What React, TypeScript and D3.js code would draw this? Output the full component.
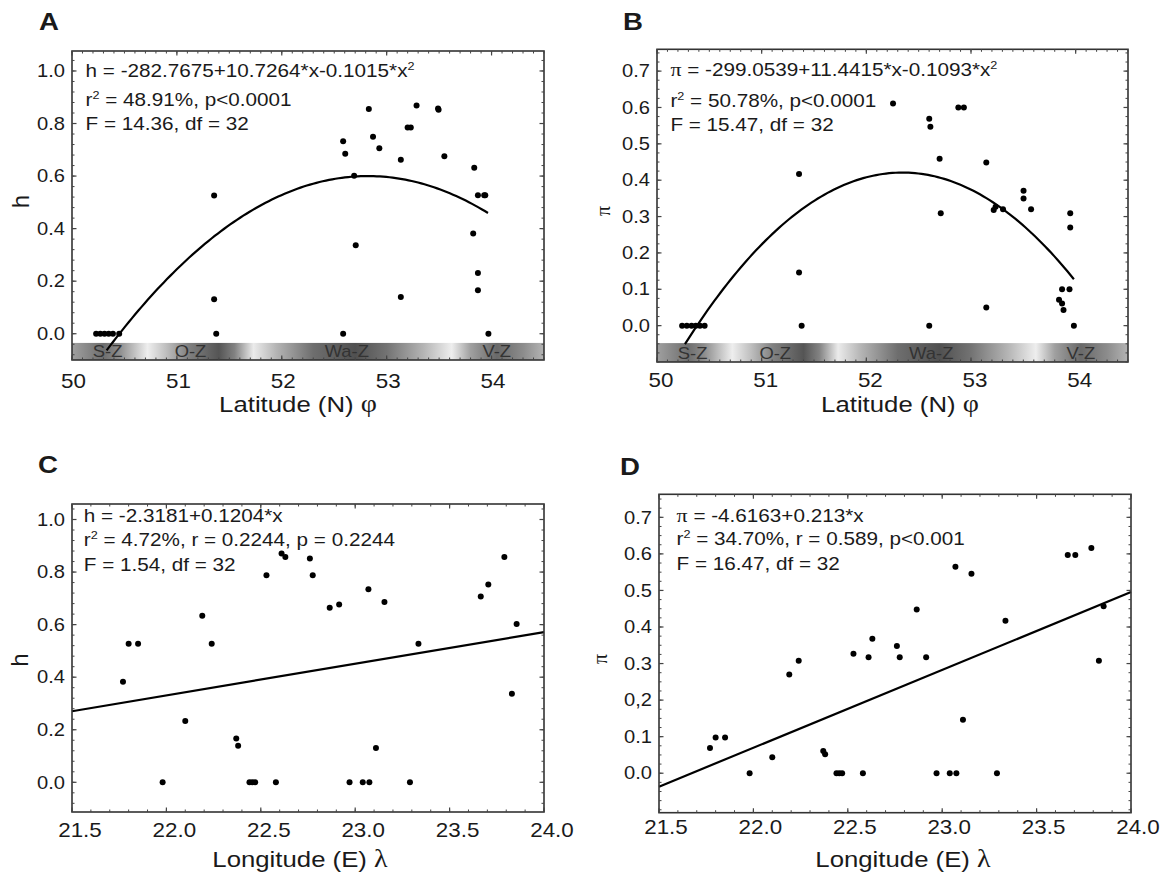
import React from "react";
import * as d3 from "d3";

const FONT = '"Liberation Sans", Arial, Helvetica, sans-serif';
const GREEK = '"Liberation Serif", "DejaVu Serif", serif';
const SX = 1.15; // the reference text is stretched horizontally

// ---- data ----
// A: latitude vs h
const latA = [50.23, 50.27, 50.31, 50.35, 50.39, 50.45, 51.355, 51.355, 51.375, 52.585, 52.605, 52.585, 52.69, 52.705, 52.83, 52.87, 52.93, 53.135, 53.135, 53.2, 53.23, 53.285, 53.49, 53.495, 53.55, 53.825, 53.835, 53.87, 53.87, 53.87, 53.93, 53.94, 53.97];
const hA = [0, 0, 0, 0, 0, 0, 0.526, 0.131, 0, 0.733, 0.685, 0, 0.601, 0.337, 0.855, 0.75, 0.706, 0.662, 0.14, 0.785, 0.785, 0.869, 0.857, 0.852, 0.675, 0.381, 0.632, 0.231, 0.165, 0.527, 0.527, 0.527, 0];

// B: latitude vs pi
const latB = [50.24, 50.285, 50.33, 50.37, 50.41, 50.455, 51.357, 51.357, 51.382, 52.255, 52.601, 52.612, 52.601, 52.7, 52.711, 52.879, 52.932, 53.146, 53.146, 53.217, 53.235, 53.306, 53.502, 53.502, 53.574, 53.841, 53.87, 53.884, 53.87, 53.941, 53.948, 53.948, 53.983];
const piB = [0, 0, 0, 0, 0, 0, 0.417, 0.146, 0, 0.611, 0.569, 0.547, 0, 0.459, 0.309, 0.6, 0.6, 0.449, 0.05, 0.318, 0.327, 0.32, 0.371, 0.35, 0.32, 0.071, 0.061, 0.043, 0.1, 0.1, 0.309, 0.27, 0];

// C, D: longitude vs h / pi
const lonCD = [21.77, 21.8, 21.85, 21.98, 22.1, 22.19, 22.24, 22.37, 22.38, 22.44, 22.455, 22.47, 22.53, 22.58, 22.61, 22.63, 22.76, 22.775, 22.865, 22.915, 22.97, 23.04, 23.07, 23.075, 23.11, 23.155, 23.29, 23.335, 23.665, 23.705, 23.79, 23.83, 23.855];
const hC = [0.383, 0.527, 0.527, 0, 0.233, 0.634, 0.527, 0.167, 0.139, 0, 0, 0, 0.788, 0, 0.871, 0.857, 0.852, 0.788, 0.664, 0.677, 0, 0, 0.735, 0, 0.131, 0.686, 0, 0.527, 0.707, 0.753, 0.857, 0.337, 0.602];
const piD = [0.069, 0.098, 0.098, 0, 0.044, 0.27, 0.308, 0.061, 0.052, 0, 0, 0, 0.327, 0, 0.317, 0.368, 0.348, 0.317, 0.448, 0.317, 0, 0, 0.565, 0, 0.146, 0.546, 0, 0.417, 0.597, 0.597, 0.616, 0.308, 0.457];

// ticks
const latTicks = [50, 51, 52, 53, 54];
const lonTicks = [21.5, 22, 22.5, 23, 23.5, 24];
const hTicks = [0, 0.2, 0.4, 0.6, 0.8, 1.0];
const hLabels = ["0.0", "0.2", "0.4", "0.6", "0.8", "1.0"];
const piTicks = [0, 0.1, 0.2, 0.3, 0.4, 0.5, 0.6, 0.7];
const piLabelsB = ["0.0", "0.1", "0.2", "0.3", "0.4", "0.5", "0.6", "0.7"];
const piLabelsD = ["0.0", "0.1", "0,2", "0.3", "0.4", "0.5", "0.6", "0.7"];

// latitude zone band (grey level along latitude)
const zoneStopLat = [50.0, 50.3, 50.45, 50.72, 50.9, 51.1, 51.4, 51.55, 51.73, 51.95, 52.3, 52.7, 53.0, 53.35, 53.62, 53.8, 54.05, 54.3, 54.5];
const zoneStopGrey = [160, 110, 140, 238, 190, 130, 85, 130, 235, 180, 110, 80, 115, 180, 238, 160, 105, 140, 180];
const zoneNames = ["S-Z", "O-Z", "Wa-Z", "V-Z"];
const zoneLat = [50.34, 51.13, 52.62, 54.05];

const Txt = ({ x, y, size, anchor = "start", weight = "normal", sx = SX, fill = "#1a1a1a", rotate = 0, family = FONT, children }: any) => (
  <text
    transform={`translate(${x},${y})${rotate ? ` rotate(${rotate})` : ""} scale(${sx},1)`}
    fontSize={size}
    textAnchor={anchor}
    fontWeight={weight}
    fill={fill}
    fontFamily={family}
  >
    {children}
  </text>
);

const Sup = ({ children }: any) => (
  <tspan fontSize={11} dy={-7}>{children}</tspan>
);
const Gk = ({ children, size }: any) => (
  <tspan fontFamily={GREEK} fontSize={size}>{children}</tspan>
);

const panels = [
  {
    key: "A", letter: [39, 30], frame: [72, 544, 51, 360],
    xDom: [50, 54.5], yDom: [-0.1, 1.076],
    xTicks: latTicks, xLabels: latTicks.map(String), xDx: 1.5, xMinor: 0.1, xLabY: 388,
    yTicks: hTicks, yLabels: hLabels, yMinor: 0.04,
    xs: latA, ys: hA,
    fit: { kind: "quad", vx: 52.82, vy: 0.6, a: 0.107, from: 50.33, to: 53.966 },
    bar: -0.035,
    eqX: 85.6, eqY: [77.3, 105.5, 129.5],
    eq: [
      <>h = -282.7675+10.7264*x-0.1015*x<Sup>2</Sup></>,
      <>r<Sup>2</Sup><tspan dy={7}>{" = 48.91%, p<0.0001"}</tspan></>,
      <>F = 14.36, df = 32</>,
    ],
    xTitle: <>Latitude (N) <Gk size={25}>φ</Gk></>, xTitleX: 298, xTitleY: 412,
    yTitle: "h", yGreek: false, yTitlePos: [28.5, 201.5], yTitleSize: 24,
  },
  {
    key: "B", letter: [623, 30], frame: [657, 1128, 49.3, 362],
    xDom: [50, 54.5], yDom: [-0.1, 0.76],
    xTicks: latTicks, xLabels: latTicks.map(String), xDx: 4, xMinor: 0.1, xLabY: 387,
    yTicks: piTicks, yLabels: piLabelsB, yMinor: 0.025,
    xs: latB, ys: piB,
    fit: { kind: "quad", vx: 52.345, vy: 0.421, a: 0.1093, from: 50.267, to: 53.983 },
    bar: -0.048,
    eqX: 670.4, eqY: [76, 107.3, 130.7],
    eq: [
      <><Gk size={19}>π</Gk> = -299.0539+11.4415*x-0.1093*x<Sup>2</Sup></>,
      <>r<Sup>2</Sup><tspan dy={7}>{" = 50.78%, p<0.0001"}</tspan></>,
      <>F = 15.47, df = 32</>,
    ],
    xTitle: <>Latitude (N) <Gk size={25}>φ</Gk></>, xTitleX: 900, xTitleY: 412,
    yTitle: "π", yGreek: true, yTitlePos: [610, 211], yTitleSize: 20,
  },
  {
    key: "C", letter: [38, 473], frame: [72, 544, 504, 812],
    xDom: [21.5, 24], yDom: [-0.113, 1.059],
    xTicks: lonTicks, xLabels: lonTicks.map(d3.format(".1f")), xDx: 8, xMinor: 0.1, xLabY: 837,
    yTicks: hTicks, yLabels: hLabels, yMinor: 0.04,
    xs: lonCD, ys: hC,
    fit: { kind: "lin", b0: -2.3181, b1: 0.1204 },
    bar: null,
    eqX: 83.8, eqY: [521.7, 546, 571],
    eq: [
      <>h = -2.3181+0.1204*x</>,
      <>r<Sup>2</Sup><tspan dy={7}>{" = 4.72%, r = 0.2244, p = 0.2244"}</tspan></>,
      <>F = 1.54, df = 32</>,
    ],
    xTitle: <>Longitude (E) <Gk size={25}>λ</Gk></>, xTitleX: 300, xTitleY: 867,
    yTitle: "h", yGreek: false, yTitlePos: [27.5, 660], yTitleSize: 24,
  },
  {
    key: "D", letter: [620, 475], frame: [659, 1131, 494.3, 812.7],
    xDom: [21.5, 24], yDom: [-0.108, 0.763],
    xTicks: lonTicks, xLabels: lonTicks.map(d3.format(".1f")), xDx: 7, xMinor: 0.1, xLabY: 834,
    yTicks: piTicks, yLabels: piLabelsD, yMinor: 0.025,
    xs: lonCD, ys: piD,
    fit: { kind: "lin", b0: -4.6163, b1: 0.213 },
    bar: null,
    eqX: 676.6, eqY: [521.7, 545, 570],
    eq: [
      <><Gk size={19}>π</Gk> = -4.6163+0.213*x</>,
      <>r<Sup>2</Sup><tspan dy={7}>{" = 34.70%, r = 0.589, p<0.001"}</tspan></>,
      <>F = 16.47, df = 32</>,
    ],
    xTitle: <>Longitude (E) <Gk size={25}>λ</Gk></>, xTitleX: 903, xTitleY: 867,
    yTitle: "π", yGreek: true, yTitlePos: [607, 659], yTitleSize: 20,
  },
];

const Panel = ({ p }: any) => {
  const [x0, x1, y0, y1] = p.frame;
  const x = d3.scaleLinear().domain(p.xDom).range([x0, x1]);
  const y = d3.scaleLinear().domain(p.yDom).range([y1, y0]);
  const gradId = `zone-${p.key}`;

  let fitPath = "";
  if (p.fit.kind === "quad") {
    const f = p.fit;
    const n = 120;
    const pts = d3.range(n + 1).map((i) => {
      const xv = f.from + ((f.to - f.from) * i) / n;
      return [xv, f.vy - f.a * (xv - f.vx) * (xv - f.vx)];
    });
    fitPath = d3.line().x((d: any) => x(d[0])).y((d: any) => y(d[1]))(pts as any) || "";
  } else {
    const f = p.fit;
    const pts = p.xDom.map((xv: number) => [xv, f.b0 + f.b1 * xv]);
    fitPath = d3.line().x((d: any) => x(d[0])).y((d: any) => y(d[1]))(pts as any) || "";
  }

  const eps = 1e-9;
  const xMinor = d3.range(Math.ceil(p.xDom[0] / p.xMinor) * p.xMinor, p.xDom[1] + eps, p.xMinor);
  const yMinor = d3.range(Math.ceil(p.yDom[0] / p.yMinor) * p.yMinor, p.yDom[1] + eps, p.yMinor);
  const tickColor = "#444";

  return (
    <g>
      {p.bar !== null && (
        <>
          <defs>
            <linearGradient id={gradId} gradientUnits="userSpaceOnUse" x1={x0} x2={x1} y1={0} y2={0}>
              {zoneStopLat.map((lat, i) => (
                <stop
                  key={i}
                  offset={(lat - p.xDom[0]) / (p.xDom[1] - p.xDom[0])}
                  stopColor={d3.rgb(zoneStopGrey[i], zoneStopGrey[i], zoneStopGrey[i]).formatHex()}
                />
              ))}
            </linearGradient>
          </defs>
          <rect x={x0} y={y(p.bar)} width={x1 - x0} height={y1 - y(p.bar)} fill={`url(#${gradId})`} />
          {zoneNames.map((z, i) => (
            <Txt key={z} x={x(zoneLat[i])} y={y1 - 3.5} size={16} anchor="middle" fill="#333">{z}</Txt>
          ))}
        </>
      )}

      <path d={fitPath} fill="none" stroke="#000" strokeWidth={2.2} />

      {p.xs.map((xv: number, i: number) => (
        <circle key={i} cx={x(xv)} cy={y(p.ys[i])} r={3} fill="#000" />
      ))}

      {/* frame and inward ticks on all sides */}
      <rect x={x0} y={y0} width={x1 - x0} height={y1 - y0} fill="none" stroke="#333" strokeWidth={1.6} />
      {xMinor.map((t: number, i: number) => (
        <g key={`xm${i}`} stroke={tickColor} strokeWidth={1}>
          <line x1={x(t)} x2={x(t)} y1={y1} y2={y1 - 2.5} />
          <line x1={x(t)} x2={x(t)} y1={y0} y2={y0 + 2.5} />
        </g>
      ))}
      {p.xTicks.map((t: number, i: number) => (
        <g key={`xM${i}`} stroke={tickColor} strokeWidth={1.2}>
          <line x1={x(t)} x2={x(t)} y1={y1} y2={y1 - 4.5} />
          <line x1={x(t)} x2={x(t)} y1={y0} y2={y0 + 4.5} />
        </g>
      ))}
      {yMinor.map((t: number, i: number) => (
        <g key={`ym${i}`} stroke={tickColor} strokeWidth={1}>
          <line x1={x0} x2={x0 + 2.5} y1={y(t)} y2={y(t)} />
          <line x1={x1} x2={x1 - 2.5} y1={y(t)} y2={y(t)} />
        </g>
      ))}
      {p.yTicks.map((t: number, i: number) => (
        <g key={`yM${i}`} stroke={tickColor} strokeWidth={1.2}>
          <line x1={x0} x2={x0 + 4.5} y1={y(t)} y2={y(t)} />
          <line x1={x1} x2={x1 - 4.5} y1={y(t)} y2={y(t)} />
        </g>
      ))}

      {p.xTicks.map((t: number, i: number) => (
        <Txt key={`xl${i}`} x={x(t) + p.xDx} y={p.xLabY} size={20} anchor="middle" sx={1.12}>{p.xLabels[i]}</Txt>
      ))}
      {p.yTicks.map((t: number, i: number) => (
        <Txt key={`yl${i}`} x={x0 - 7} y={y(t) + 6.2} size={17.5} anchor="end">{p.yLabels[i]}</Txt>
      ))}

      {p.eq.map((line: any, i: number) => (
        <Txt key={`eq${i}`} x={p.eqX} y={p.eqY[i]} size={18}>{line}</Txt>
      ))}

      <Txt x={p.xTitleX} y={p.xTitleY} size={23} anchor="middle" sx={1.12}>{p.xTitle}</Txt>
      <Txt
        x={p.yTitlePos[0]}
        y={p.yTitlePos[1]}
        size={p.yTitleSize}
        anchor="middle"
        sx={1}
        rotate={-90}
        family={p.yGreek ? GREEK : FONT}
      >
        {p.yTitle}
      </Txt>
      <Txt x={p.letter[0]} y={p.letter[1]} size={24} weight="bold">{p.key}</Txt>
    </g>
  );
};

export default function App() {
  return (
    <svg
      width={1165}
      height={877}
      viewBox="0 0 1165 877"
      style={{ position: "absolute", left: 0, top: 0, background: "#fff" }}
    >
      <rect x={0} y={0} width={1165} height={877} fill="#fff" />
      {panels.map((p) => (
        <Panel key={p.key} p={p} />
      ))}
    </svg>
  );
}
